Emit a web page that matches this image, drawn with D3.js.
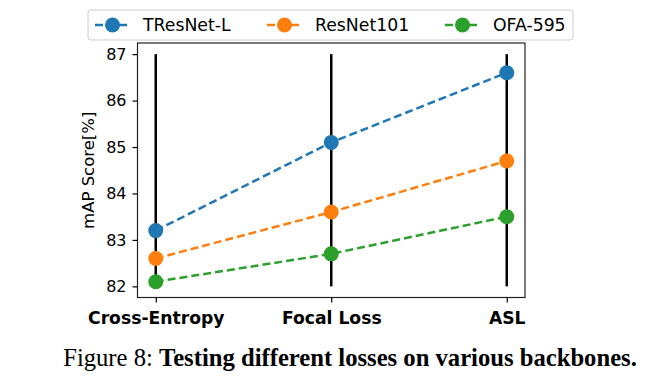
<!DOCTYPE html>
<html><head><meta charset="utf-8">
<script src="https://cdn.jsdelivr.net/npm/d3@7"></script>
<style>html,body{margin:0;padding:0;background:#fff;}</style>
</head><body><svg id="c" width="660" height="380"></svg>
<script>
const categories = ["Cross-Entropy", "Focal Loss", "ASL"];
const seriesNames = ["TResNet-L", "ResNet101", "OFA-595"];
const tresnet = [83.2, 85.1, 86.6];
const resnet101 = [82.6, 83.6, 84.7];
const ofa595 = [82.1, 82.7, 83.5];
const yTicks = [82, 83, 84, 85, 86, 87];
const vlineRange = [82, 87];
const colors = ["#1f77b4", "#ff7f0e", "#2ca02c"];
const series = [tresnet, resnet101, ofa595];

const svg = d3.select("#c");
const L = 137.5, R = 525, T = 43, B = 297.5;
const x = d3.scaleLinear().domain([-0.104, categories.length - 1 + 0.104]).range([L, R]);
const y = d3.scaleLinear().domain([81.76, 87.24]).range([B, T]);
const font = "'DejaVu Sans', sans-serif";

// vertical black lines
svg.append("g").selectAll("line").data(categories).join("line")
  .attr("x1", (d,i)=>x(i)).attr("x2", (d,i)=>x(i))
  .attr("y1", y(vlineRange[0])).attr("y2", y(vlineRange[1]))
  .attr("stroke", "#000").attr("stroke-width", 2.5);

// series
const line = d3.line().x((d,i)=>x(i)).y(d=>y(d));
series.forEach((s, k) => {
  svg.append("path").datum(s).attr("d", line).attr("fill", "none")
    .attr("stroke", colors[k]).attr("stroke-width", 2.5).attr("stroke-dasharray", "8,4");
  svg.append("g").selectAll("circle").data(s).join("circle")
    .attr("cx", (d,i)=>x(i)).attr("cy", d=>y(d)).attr("r", 7.5).attr("fill", colors[k]);
});

// frame
svg.append("rect").attr("x", L).attr("y", T).attr("width", R-L).attr("height", B-T)
  .attr("fill", "none").attr("stroke", "#222").attr("stroke-width", 1.2);

// y axis
const yAxis = d3.axisLeft(y).tickValues(yTicks).tickSize(5).tickPadding(6).tickFormat(d3.format("d"));
const gy = svg.append("g").attr("transform", `translate(${L},0)`).call(yAxis);
gy.select(".domain").remove();
gy.selectAll("text").attr("font-family", font).attr("font-size", 16).attr("fill", "#000");
gy.selectAll("line").attr("stroke", "#000").attr("stroke-width", 1.2);

// x axis
const xAxis = d3.axisBottom(x).tickValues(d3.range(categories.length)).tickSize(5).tickPadding(9)
  .tickFormat(i => categories[i]);
const gx = svg.append("g").attr("transform", `translate(0,${B})`).call(xAxis);
gx.select(".domain").remove();
gx.selectAll("text").attr("font-family", font).attr("font-size", 17.2).attr("font-weight", "bold").attr("fill", "#000");
gx.selectAll("line").attr("stroke", "#000").attr("stroke-width", 1.2);

// y label
svg.append("text").attr("transform", `translate(94,${(T+B)/2}) rotate(-90)`)
  .attr("text-anchor", "middle").attr("font-family", font).attr("font-size", 16.5)
  .text("mAP Score[%]");

// legend
const lg = svg.append("g");
lg.append("rect").attr("x", 88).attr("y", 10).attr("width", 485).attr("height", 30)
  .attr("rx", 3).attr("fill", "rgba(255,255,255,0.85)").attr("stroke", "#ccc").attr("stroke-width", 1);
const legX = [95, 267, 445];
seriesNames.forEach((n, k) => {
  const g = lg.append("g").attr("transform", `translate(${legX[k]},25)`);
  g.append("line").attr("x1", 0).attr("x2", 35).attr("y1", 0).attr("y2", 0)
    .attr("stroke", colors[k]).attr("stroke-width", 2.5).attr("stroke-dasharray", "8,4");
  g.append("circle").attr("cx", 17.5).attr("cy", 0).attr("r", 7.5).attr("fill", colors[k]);
  g.append("text").attr("x", 48).attr("y", 6).attr("font-family", font).attr("font-size", 17.3)
    .attr("fill", "#000").text(n);
});

// caption
const cap = svg.append("text").attr("x", 350).attr("y", 366).attr("text-anchor", "middle")
  .attr("font-family", "'Liberation Serif', 'Times New Roman', serif").attr("font-size", 24).attr("fill", "#000");
cap.append("tspan").text("Figure 8: ");
cap.append("tspan").attr("font-weight", "bold").text("Testing different losses on various backbones.");
const w = cap.node().getComputedTextLength();
cap.attr("font-size", 24 * 574 / w);
</script></body></html>
